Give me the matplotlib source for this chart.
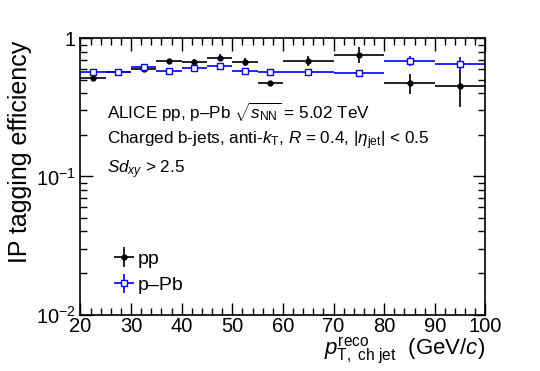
import numpy as np
import matplotlib
matplotlib.use("Agg")
import matplotlib.pyplot as plt
from matplotlib.ticker import MultipleLocator, LogLocator, NullFormatter

plt.rcParams['font.family'] = ['Liberation Sans', 'DejaVu Sans']
plt.rcParams['mathtext.fontset'] = 'custom'
plt.rcParams['mathtext.rm'] = 'Liberation Sans'
plt.rcParams['mathtext.it'] = 'Liberation Sans:italic'
plt.rcParams['mathtext.bf'] = 'Liberation Sans:bold'

# pT bins (GeV/c)
bin_edges = np.array([20, 25, 30, 35, 40, 45, 50, 55, 60, 70, 80, 90, 100])
centers = 0.5 * (bin_edges[:-1] + bin_edges[1:])
half_width = 0.5 * np.diff(bin_edges)

# efficiency values
pp_eff = [0.519, 0.567, 0.597, 0.682, 0.677, 0.724, 0.677, 0.472, 0.685, 0.757, 0.472, 0.454]
pp_err = [0.02, 0.015, 0.02, 0.02, 0.025, 0.045, 0.045, 0.02, 0.06, 0.10, 0.075, 0.135]
ppb_eff = [0.573, 0.567, 0.623, 0.577, 0.607, 0.630, 0.580, 0.573, 0.570, 0.564, 0.685, 0.652]
ppb_err = [0.01, 0.01, 0.01, 0.01, 0.01, 0.01, 0.01, 0.01, 0.01, 0.012, 0.055, 0.075]

fig = plt.figure(figsize=(5.4, 3.71), dpi=100)
ax = fig.add_axes([0.149, 0.152, 0.750, 0.745])

ax.errorbar(centers, pp_eff, xerr=half_width, yerr=pp_err, fmt='o', color='black',
            ms=3.5, elinewidth=1.2, capsize=0, label='pp')
ax.errorbar(centers, ppb_eff, xerr=half_width, yerr=ppb_err, fmt='s', color='blue',
            mfc='white', mec='blue', ms=4.5, mew=1.0, elinewidth=1.2, capsize=0, label='p–Pb')

ax.set_yscale('log')
ax.set_xlim(20, 100)
ax.set_ylim(1e-2, 1)

ax.xaxis.set_major_locator(MultipleLocator(10))
ax.xaxis.set_minor_locator(MultipleLocator(2))
ax.yaxis.set_major_locator(LogLocator(base=10))
ax.yaxis.set_minor_locator(LogLocator(base=10, subs=np.arange(2, 10)))
ax.yaxis.set_minor_formatter(NullFormatter())
ax.tick_params(which='both', direction='in', top=True, right=True, labelsize=14.5)
ax.tick_params(which='major', length=9, width=1)
ax.tick_params(which='minor', length=5, width=1)
ax.tick_params(axis='x', pad=2)
ax.set_yticks([1e-2, 1e-1, 1])
ax.set_yticklabels([r'$10^{-2}$', r'$10^{-1}$', '1'])
for s in ax.spines.values():
    s.set_linewidth(1.2)

ax.set_ylabel('IP tagging efficiency', fontsize=18)
ax.yaxis.set_label_coords(-0.12, 0.59)
ax.set_xlabel(r'$p_{\mathrm{T,\ ch\ jet}}^{\mathrm{reco}}$  (GeV/$c$)', fontsize=16, loc='right', labelpad=-1)

txt_kw = dict(transform=ax.transAxes, fontsize=12.3, va='center')
ax.text(0.065, 0.731, r'ALICE pp, p–Pb $\sqrt{s_{\mathrm{NN}}}$ = 5.02 TeV', **txt_kw)
ax.text(0.065, 0.630, r'Charged b-jets, anti-$k_{\mathrm{T}}$, $R$ = 0.4, $|\eta_{\mathrm{jet}}|$ < 0.5', **txt_kw)
ax.text(0.065, 0.525, r'$Sd_{xy}$ > 2.5', **txt_kw)

ax.legend(loc='lower left', bbox_to_anchor=(0.05, 0.025), frameon=False, fontsize=14,
          handlelength=1.0, handletextpad=0.2, labelspacing=0.45, borderpad=0.2)

fig.savefig('out.png', dpi=100)
